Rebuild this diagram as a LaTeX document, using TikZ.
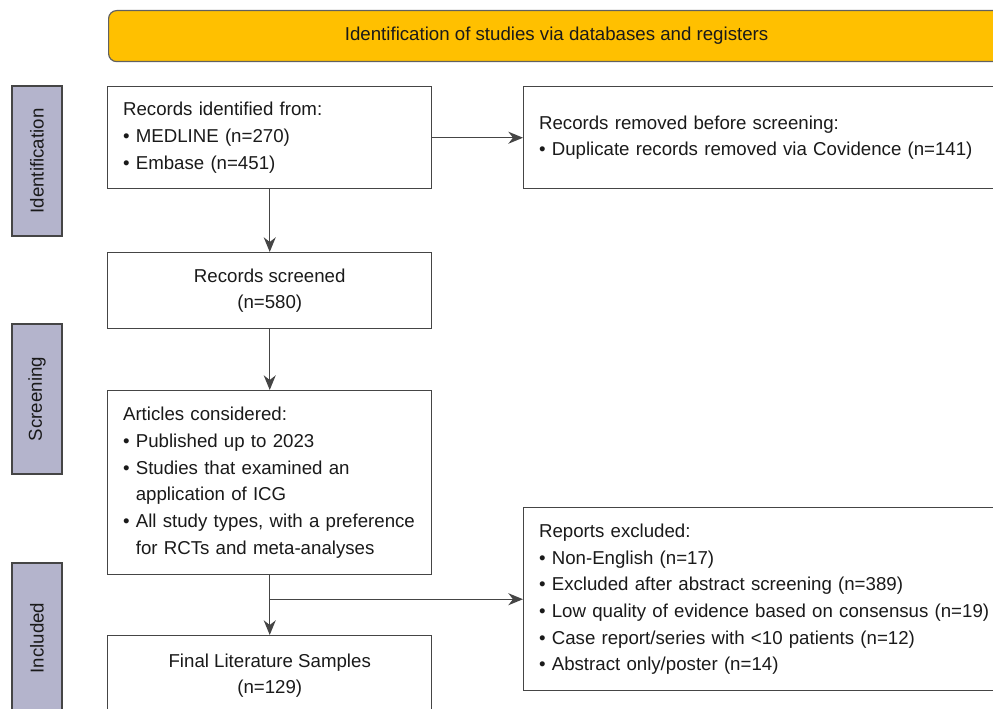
\documentclass[tikz,border=0pt]{standalone}
\usepackage{fontspec}
\setmainfont{Liberation Sans}
\usetikzlibrary{arrows.meta, positioning}
\definecolor{prismaGold}{HTML}{FFC000}
\definecolor{prismaLilac}{HTML}{B4B4CC}
\definecolor{prismaLine}{HTML}{454545}
\definecolor{prismaText}{HTML}{1A1A1A}

\begin{document}
\begin{tikzpicture}[
  x=0.75pt, y=-0.75pt,
  box/.style={draw=prismaLine, line width=1.1pt, fill=white, inner xsep=11.5pt, inner ysep=0pt,
              text=prismaText, font=\fontsize{14}{20}\selectfont},
  listbox/.style={box, align=left, text width=#1},
  midbox/.style={box, align=center, minimum width=243pt},
  phase/.style={draw=prismaLine, line width=1.1pt, fill=prismaLilac, rotate=90,
                minimum width=112.5pt, minimum height=37.5pt, inner sep=0pt,
                text=prismaText, font=\fontsize{14}{16}\selectfont},
  banner/.style={draw=prismaLine!85, line width=0.9pt, fill=prismaGold, rounded corners=6pt,
                 minimum width=672pt, minimum height=38.25pt, inner sep=0pt,
                 text=prismaText, font=\fontsize{14}{16}\selectfont},
  arrow/.style={-{Stealth[length=11pt, width=9pt, inset=3.5pt]}, line width=1.1pt, draw=prismaLine},
]
  \useasboundingbox (0,0) rectangle (993,709);
  \clip (0,0) rectangle (993,709);

  % header and phase labels
  \node[banner, anchor=north west] (banner) at (108,10) {Identification of studies via databases and registers};
  \node[phase] (ident)  at (37,161) {Identification};
  \node[phase] (screen) at (37,399) {Screening};
  \node[phase] (incl)   at (37,638) {Included};

  % main column
  \node[listbox=220pt, minimum height=76.5pt, anchor=north west] (records) at (107,86)
    {Records identified from:\\\textbullet\ MEDLINE (n=270)\\\textbullet\ Embase (n=451)};
  \node[midbox, minimum height=57pt, anchor=north west] (screened) at (107,252)
    {Records screened\\(n=580)};
  \node[listbox=220pt, minimum height=138pt, anchor=north west] (articles) at (107,390)
    {Articles considered:\\
     \textbullet\ Published up to 2023\\
     \textbullet\ Studies that examined an\\
     \phantom{\textbullet\ }application of ICG\\
     \textbullet\ All study types, with a preference\\
     \phantom{\textbullet\ }for RCTs and meta-analyses};
  \node[midbox, minimum height=60pt, anchor=north west] (final) at (107,635)
    {Final Literature Samples\\(n=129)};

  % side column
  \node[listbox=360pt, minimum height=76.5pt, anchor=north west] (removed) at (523,86)
    {Records removed before screening:\\\textbullet\ Duplicate records removed via Covidence (n=141)};
  \node[listbox=360pt, minimum height=137.25pt, anchor=north west] (excluded) at (523,507)
    {Reports excluded:\\
     \textbullet\ Non-English (n=17)\\
     \textbullet\ Excluded after abstract screening (n=389)\\
     \textbullet\ Low quality of evidence based on consensus (n=19)\\
     \textbullet\ Case report/series with <10 patients (n=12)\\
     \textbullet\ Abstract only/poster (n=14)};

  \coordinate (split) at (articles.south |- excluded.west);

  \draw[arrow] (records)  -- (removed);
  \draw[arrow] (records)  -- (screened);
  \draw[arrow] (screened) -- (articles);
  \draw[arrow] (articles) -- (final);
  \draw[arrow] (split)    -- (excluded);
\end{tikzpicture}
\end{document}
